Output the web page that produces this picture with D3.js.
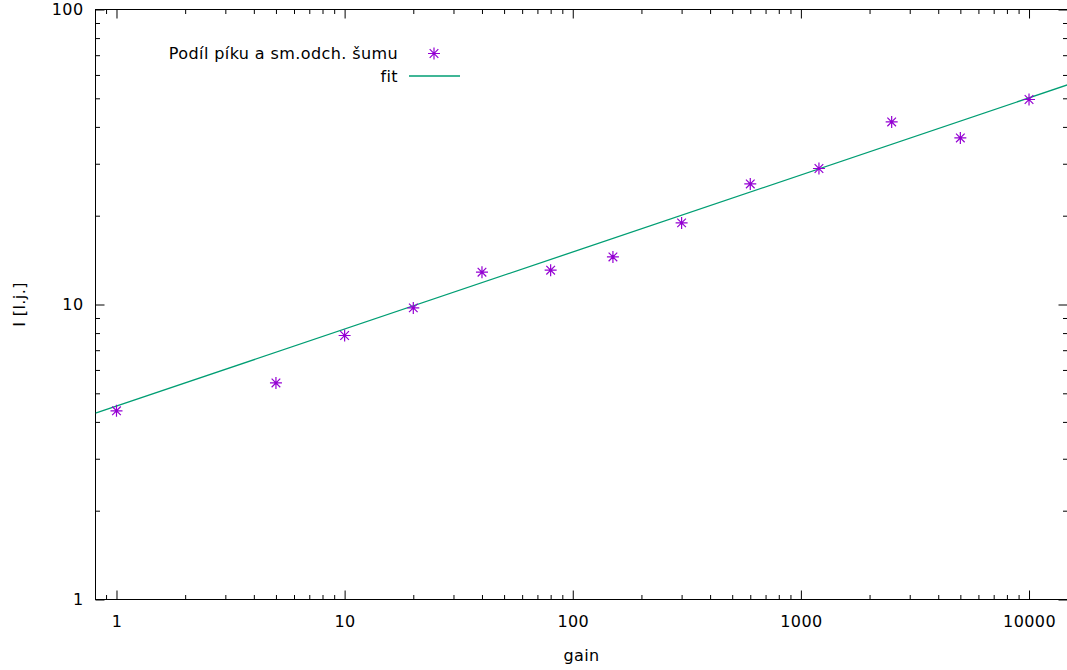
<!DOCTYPE html>
<html>
<head>
<meta charset="utf-8">
<script src="https://cdn.jsdelivr.net/npm/d3@7"></script>
<style>
  html, body { margin: 0; padding: 0; background: #fff; }
  svg { display: block; }
  text { font-family: "DejaVu Sans", sans-serif; fill: #000; letter-spacing: 0.4px; }
</style>
</head>
<body>
<svg id="chart" width="1067" height="670"></svg>
<script>
// ---- data ----
const gain = [1, 5, 10, 20, 40, 80, 150, 300, 600, 1200, 2500, 5000, 10000];
const ratio = [4.36, 5.42, 7.85, 9.74, 12.87, 13.07, 14.50, 18.91, 25.63, 28.91, 41.59, 36.71, 49.54];
const fitParams = [4.525, 0.2612]; // f(x) = a * x^b
const xMajorTicks = [1, 10, 100, 1000, 10000];
const yMajorTicks = [1, 10, 100];
const seriesLabel = "Podíl píku a sm.odch. šumu";
const fitLabel = "fit";
const xTitle = "gain";
const yTitle = "I [l.j.]";

(function () {
// ---- layout ----
const pL = 95.5, pR = 1067.5, pT = 9.5, pB = 599.5;
const fontSize = 16;
const pointColor = "#9400d3";
const fitColor = "#009e73";

const svg = d3.select("#chart");

const xDomainMin = Math.pow(10, (95 - 116) / 228.25);
const xDomainMax = Math.pow(10, (pR - 116) / 228.25);
const x = d3.scaleLog().domain([xDomainMin, xDomainMax]).range([pL, pR]);
const y = d3.scaleLog().domain([1, 100]).range([pB, pT]);

function minorTicks(lo, hi) {
  const out = [];
  for (let e = -1; e <= 5; e++) {
    for (let m = 2; m <= 9; m++) {
      const v = m * Math.pow(10, e);
      if (v >= lo && v <= hi) out.push(v);
    }
  }
  return out;
}
const xMinor = minorTicks(xDomainMin, xDomainMax);
const yMinor = minorTicks(1, 100).filter(v => v < 100);

const major = 9, minor = 4.5;

function styleAxis(g) {
  g.select(".domain").remove();
  g.selectAll("line").attr("stroke", "#000").attr("stroke-width", 1);
  g.selectAll("text").style("font-family", "DejaVu Sans, sans-serif").style("font-size", fontSize + "px").attr("fill", "#000");
}

// bottom
svg.append("g").attr("transform", `translate(0,${pB})`)
  .call(d3.axisBottom(x).tickValues(xMajorTicks).tickFormat(d3.format("d")).tickSizeInner(-major).tickSizeOuter(0).tickPadding(16))
  .call(styleAxis);
svg.append("g").attr("transform", `translate(0,${pB})`)
  .call(d3.axisBottom(x).tickValues(xMinor).tickFormat("").tickSizeInner(-minor).tickSizeOuter(0))
  .call(styleAxis);
// top
svg.append("g").attr("transform", `translate(0,${pT})`)
  .call(d3.axisTop(x).tickValues(xMajorTicks).tickFormat("").tickSizeInner(-major).tickSizeOuter(0))
  .call(styleAxis);
svg.append("g").attr("transform", `translate(0,${pT})`)
  .call(d3.axisTop(x).tickValues(xMinor).tickFormat("").tickSizeInner(-minor).tickSizeOuter(0))
  .call(styleAxis);
// left
svg.append("g").attr("transform", `translate(${pL},0)`)
  .call(d3.axisLeft(y).tickValues(yMajorTicks).tickFormat(d3.format("d")).tickSizeInner(-major).tickSizeOuter(0).tickPadding(12))
  .call(styleAxis);
svg.append("g").attr("transform", `translate(${pL},0)`)
  .call(d3.axisLeft(y).tickValues(yMinor).tickFormat("").tickSizeInner(-minor).tickSizeOuter(0))
  .call(styleAxis);
// right
svg.append("g").attr("transform", `translate(${pR},0)`)
  .call(d3.axisRight(y).tickValues(yMajorTicks).tickFormat("").tickSizeInner(-major).tickSizeOuter(0))
  .call(styleAxis);
svg.append("g").attr("transform", `translate(${pR},0)`)
  .call(d3.axisRight(y).tickValues(yMinor).tickFormat("").tickSizeInner(-minor).tickSizeOuter(0))
  .call(styleAxis);

// border
svg.append("rect").attr("x", pL).attr("y", pT).attr("width", pR - pL).attr("height", pB - pT)
  .attr("fill", "none").attr("stroke", "#000").attr("stroke-width", 1);

// clip
svg.append("clipPath").attr("id", "clip").append("rect")
  .attr("x", pL).attr("y", pT).attr("width", pR - pL).attr("height", pB - pT);

// fit line
const fitPts = [xDomainMin, xDomainMax].map(g => [g, fitParams[0] * Math.pow(g, fitParams[1])]);
svg.append("path").attr("clip-path", "url(#clip)")
  .attr("d", d3.line().x(d => x(d[0])).y(d => y(d[1]))(fitPts))
  .attr("fill", "none").attr("stroke", fitColor).attr("stroke-width", 1.3);

// asterisk symbol
const s = 6;
function star(g) {
  const k = s * 0.72;
  const d = `M${-s},0L${s},0M0,${-s}L0,${s}M${-k},${-k}L${k},${k}M${-k},${k}L${k},${-k}`;
  g.append("path").attr("d", d).attr("stroke", pointColor).attr("stroke-width", 1.2).attr("fill", "none");
}
svg.append("g").selectAll("g").data(gain.map((g, i) => [g, ratio[i]])).join("g")
  .attr("transform", d => `translate(${x(d[0])},${y(d[1])})`)
  .each(function () { star(d3.select(this)); });

// legend
const leg = svg.append("g");
leg.append("text").attr("x", 398).attr("y", 59).attr("text-anchor", "end").style("font-size", fontSize + "px").text(seriesLabel);
star(leg.append("g").attr("transform", "translate(434,53.5)"));
leg.append("text").attr("x", 398).attr("y", 82).attr("text-anchor", "end").style("font-size", fontSize + "px").text(fitLabel);
leg.append("line").attr("x1", 409).attr("x2", 460).attr("y1", 76).attr("y2", 76)
  .attr("stroke", fitColor).attr("stroke-width", 1.3);

// axis titles
svg.append("text").attr("x", (pL + pR) / 2).attr("y", 661).attr("text-anchor", "middle")
  .style("font-size", fontSize + "px").text(xTitle);
svg.append("text").attr("transform", `translate(25,${(pT + pB) / 2}) rotate(-90)`).attr("text-anchor", "middle")
  .style("font-size", fontSize + "px").text(yTitle);
})();
</script>
</body>
</html>
